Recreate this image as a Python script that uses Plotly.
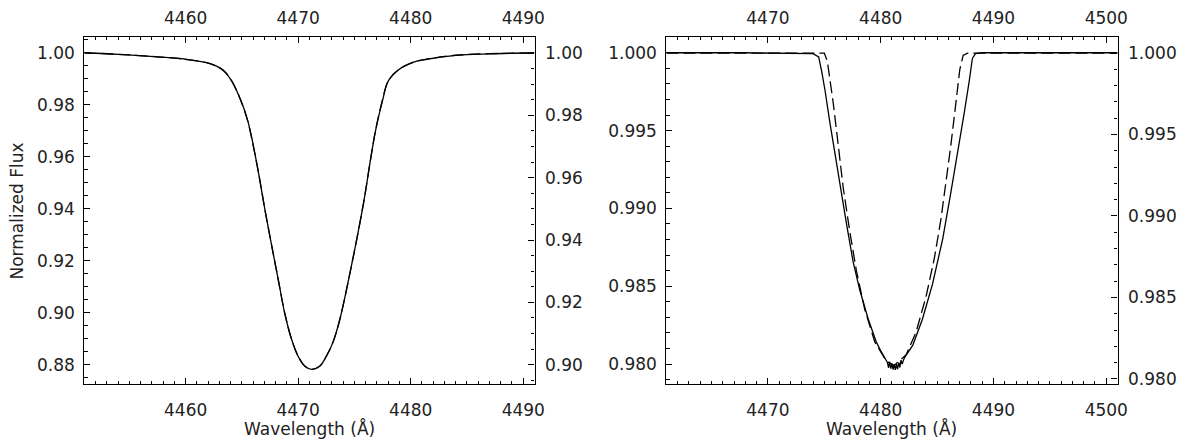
import plotly.graph_objects as go

# ---------------- data ----------------
# Left panel: solid profile (left axis) and dashed profile (right axis)
left_wave = [4451.0, 4454.0, 4457.5, 4460.0, 4462.1, 4463.3, 4464.1, 4464.9, 4465.5, 4465.9,
             4466.5, 4467.1, 4467.7, 4468.25, 4468.8, 4469.4, 4470.0, 4470.6, 4471.2, 4471.9,
             4472.5, 4473.1, 4473.7, 4474.4, 4475.1, 4475.85, 4476.4, 4476.9, 4477.5, 4478.0,
             4478.9, 4480.2, 4481.4, 4484.0, 4487.0, 4491.0]
left_solid = [1.0000, 0.9994, 0.9984, 0.9975, 0.9959, 0.9934, 0.9891, 0.9817, 0.9742, 0.9668,
              0.9532, 0.9383, 0.9246, 0.9123, 0.8999, 0.8900, 0.8832, 0.8794, 0.8782, 0.8794,
              0.8832, 0.8887, 0.8974, 0.9110, 0.9259, 0.9432, 0.9581, 0.9705, 0.9817, 0.9891,
              0.9934, 0.9963, 0.9975, 0.9990, 0.9996, 1.0000]
left_dashed = [1.0000, 0.9996, 0.9988, 0.9980, 0.9967, 0.9946, 0.9910, 0.9848, 0.9784, 0.9721,
               0.9611, 0.9486, 0.9372, 0.9269, 0.9166, 0.9083, 0.9027, 0.8995, 0.8985, 0.8995,
               0.9027, 0.9073, 0.9145, 0.9259, 0.9383, 0.9527, 0.9652, 0.9757, 0.9851, 0.9910,
               0.9946, 0.9970, 0.9980, 0.9993, 0.9998, 1.0000]

# Right panel: solid profile (left axis)
right_wave_solid = [4461.0, 4468.0, 4474.0, 4474.5, 4474.77, 4475.07, 4475.5, 4475.95, 4476.4, 4477.0,
                    4477.55, 4478.15, 4478.9, 4479.6, 4480.0, 4480.35, 4480.6, 4480.7, 4480.8, 4480.9,
                    4481.0, 4481.1, 4481.2, 4481.3, 4481.4, 4481.5, 4481.6, 4481.7, 4481.8, 4481.9,
                    4482.1, 4482.85, 4483.7, 4484.6, 4485.5, 4486.2, 4486.8, 4487.4, 4487.85, 4488.13,
                    4488.4, 4489.0, 4501.0]
right_solid = [1.00000, 1.00000, 0.99994, 0.99973, 0.99880, 0.99756, 0.99549, 0.99342, 0.99136, 0.98888,
               0.98660, 0.98474, 0.98288, 0.98143, 0.98085, 0.98040, 0.98010, 0.97975, 0.98015, 0.97970,
               0.98005, 0.97965, 0.98000, 0.97962, 0.98000, 0.97968, 0.98010, 0.97978, 0.98025, 0.98000,
               0.98040, 0.98122, 0.98288, 0.98515, 0.98805, 0.99094, 0.99342, 0.99611, 0.99818, 0.99963,
               0.99994, 1.00000, 1.00000]
# Right panel: dashed profile (right axis)
right_wave_dashed = [4461.0, 4475.0, 4475.27, 4475.8, 4476.24, 4476.67, 4477.27, 4477.85, 4478.59, 4479.47,
                     4480.49, 4481.2, 4482.26, 4483.14, 4484.02, 4484.76, 4485.34, 4485.78, 4486.22, 4486.66,
                     4487.01, 4487.31, 4487.7, 4501.0]
right_dashed = [1.0000, 1.0000, 0.99950, 0.99690, 0.99433, 0.99177, 0.98900, 0.98663, 0.98426, 0.98229,
                0.98110, 0.98082, 0.98149, 0.98288, 0.98505, 0.98742, 0.98979, 0.99196, 0.99433, 0.99690,
                0.99897, 0.99986, 1.0000, 1.0000]

x_title = "Wavelength (Å)"
y_title = "Normalized Flux"

# ---------------- figure ----------------
# the page body adds an 8 px margin, so the figure is drawn 8 px smaller/offset
OFF = 8
W, H = 1191 - OFF, 445 - OFF
FONT = "DejaVu Sans"
TXT = "#222222"
FS = 17

def px(x):
    return (x - OFF) / W

def py(y):
    return 1 - (y - OFF) / H

fig = go.Figure()
line_solid = dict(color="black", width=1.3)
line_dash = dict(color="black", width=1.3, dash="12px,5px")

fig.add_trace(go.Scatter(x=left_wave, y=left_solid, mode="lines", line=line_solid,
                         line_shape="spline", xaxis="x", yaxis="y", showlegend=False))
fig.add_trace(go.Scatter(x=left_wave, y=left_dashed, mode="lines", line=line_dash,
                         line_shape="spline", xaxis="x", yaxis="y2", showlegend=False))
fig.add_trace(go.Scatter(x=right_wave_solid, y=right_solid, mode="lines", line=line_solid,
                         xaxis="x2", yaxis="y3", showlegend=False))
fig.add_trace(go.Scatter(x=right_wave_dashed, y=right_dashed, mode="lines", line=line_dash,
                         xaxis="x2", yaxis="y4", showlegend=False))

ydom = [py(387), py(28)]
xdomL = [px(85), px(539)]
xdomR = [px(672), px(1127)]
tfont = dict(family=FONT, size=FS, color=TXT)

def xax(dom, rng, anchor, side, overlay=None, standoff=14):
    d = dict(domain=dom, range=rng, anchor=anchor, side=side, dtick=10, tick0=4450,
             ticks="inside", ticklen=6, tickwidth=1, tickcolor="black",
             showline=True, linecolor="black", linewidth=1.2, showgrid=False, zeroline=False,
             tickfont=tfont, ticklabelstandoff=standoff,
             minor=dict(dtick=1, ticks="inside", ticklen=3, tickcolor="black", showgrid=False))
    if overlay:
        d["overlaying"] = overlay
        d["matches"] = overlay
    return d

def yax(rng, anchor, side, dtick, minor, overlay=None, standoff=6, fmt=None):
    d = dict(domain=ydom, range=rng, anchor=anchor, side=side, dtick=dtick, tick0=0,
             ticks="inside", ticklen=6, tickwidth=1, tickcolor="black",
             showline=True, linecolor="black", linewidth=1.2, showgrid=False, zeroline=False,
             tickfont=tfont, ticklabelstandoff=standoff, tickformat=fmt,
             minor=dict(dtick=minor, ticks="inside", ticklen=3.5, tickcolor="black", showgrid=False))
    if overlay:
        d["overlaying"] = overlay
    return d

layout = dict(
    width=W, height=H, margin=dict(l=0, r=0, t=0, b=0), autosize=False,
    paper_bgcolor="white", plot_bgcolor="white", showlegend=False,
    xaxis=xax(xdomL, [4451, 4491], "y", "bottom", standoff=11),
    xaxis2=xax(xdomR, [4461, 4501], "y3", "bottom", standoff=11),
    xaxis3=xax(xdomL, [4451, 4491], "y", "top", overlay="x", standoff=5),
    xaxis4=xax(xdomR, [4461, 4501], "y3", "top", overlay="x2", standoff=5),
    yaxis=yax([0.8726, 1.00594], "x", "left", 0.02, 0.005, standoff=5, fmt=".2f"),
    yaxis2=yax([0.8938, 1.00505], "x", "right", 0.02, 0.005, overlay="y", standoff=6, fmt=".2f"),
    yaxis3=yax([0.97872, 1.000993], "x2", "left", 0.005, 0.001, standoff=5, fmt=".3f"),
    yaxis4=yax([0.97969, 1.000966], "x2", "right", 0.005, 0.001, overlay="y3", standoff=6, fmt=".3f"),
    annotations=[
        dict(text=y_title, x=px(17.5), y=py(208), xref="paper", yref="paper",
             textangle=-90, showarrow=False, xanchor="center", yanchor="middle", borderpad=0,
             font=dict(family=FONT, size=FS, color=TXT)),
        dict(text=x_title, x=px(312), y=py(433.5), xref="paper", yref="paper",
             showarrow=False, xanchor="center", yanchor="middle", borderpad=0,
             font=dict(family=FONT, size=FS, color=TXT)),
        dict(text=x_title, x=px(899), y=py(433.5), xref="paper", yref="paper",
             showarrow=False, xanchor="center", yanchor="middle", borderpad=0,
             font=dict(family=FONT, size=FS, color=TXT)),
    ],
)
fig.update_layout(**layout)

# invisible one-point traces so the top axes are drawn
fig.add_trace(go.Scatter(x=[left_wave[0]], y=[left_solid[0]], mode="lines", xaxis="x3", yaxis="y",
                         showlegend=False, hoverinfo="skip", line=dict(width=0)))
fig.add_trace(go.Scatter(x=[right_wave_solid[0]], y=[right_solid[0]], mode="lines", xaxis="x4", yaxis="y3",
                         showlegend=False, hoverinfo="skip", line=dict(width=0)))

fig.write_html("out.html")
